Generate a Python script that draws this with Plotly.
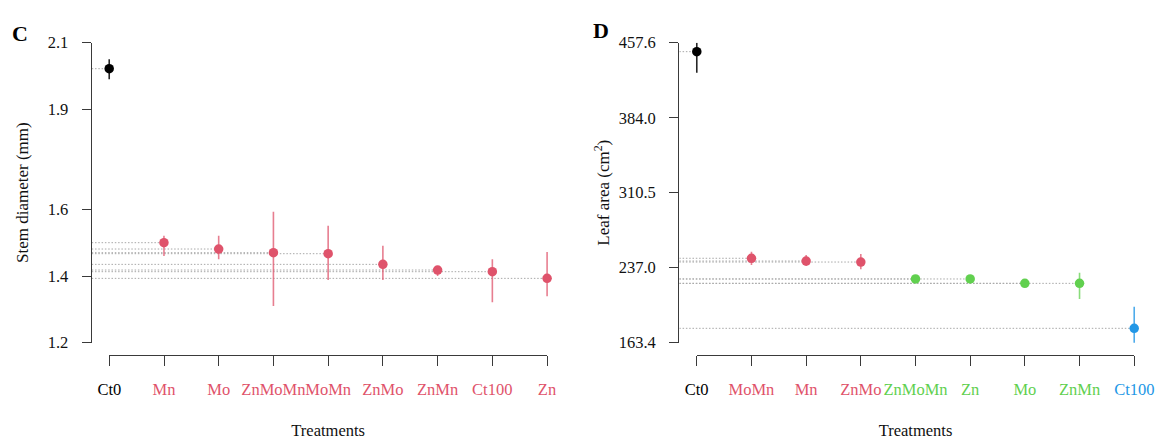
import plotly.graph_objects as go

# ---------------- data ----------------
# Panel C: stem diameter (mm)
c_labels = ["Ct0", "Mn", "Mo", "ZnMoMn", "MoMn", "ZnMo", "ZnMn", "Ct100", "Zn"]
c_groups = ["a", "b", "b", "b", "b", "b", "b", "b", "b"]
c_mean = [2.022, 1.500, 1.481, 1.470, 1.467, 1.435, 1.418, 1.413, 1.393]
c_low = [1.990, 1.460, 1.450, 1.310, 1.388, 1.388, 1.400, 1.321, 1.339]
c_high = [2.050, 1.521, 1.521, 1.593, 1.551, 1.491, 1.430, 1.450, 1.472]
c_ticks = [1.2, 1.4, 1.6, 1.9, 2.1]

# Panel D: leaf area (cm2)
d_labels = ["Ct0", "MoMn", "Mn", "ZnMo", "ZnMoMn", "Zn", "Mo", "ZnMn", "Ct100"]
d_groups = ["a", "b", "b", "b", "c", "c", "c", "c", "d"]
d_mean = [448.8, 246.2, 243.5, 242.5, 225.9, 225.9, 221.6, 221.6, 177.5]
d_low = [428.2, 239.5, 238.6, 235.4, 223.5, 223.5, 219.5, 206.3, 162.8]
d_high = [457.6, 252.6, 249.4, 250.4, 228.0, 228.0, 223.8, 232.0, 198.7]
d_ticks = [163.4, 237.0, 310.5, 384.0, 457.6]

# ---------------- style ----------------
OFF = 8                      # page body margin of the exported html
W, H = 1165 - OFF, 445 - OFF
FONT = "'Liberation Serif', 'Times New Roman', serif"
group_col = {"a": "#000000", "b": "#DF536B", "c": "#61D04F", "d": "#2297E6"}
group_err = {"a": "rgba(0,0,0,0.85)", "b": "rgba(223,83,107,0.75)",
             "c": "rgba(97,208,79,0.75)", "d": "rgba(34,151,230,0.8)"}
AX = "#3a3a3a"

def px_x(p):
    return (p - OFF) / W

def px_y(p):
    return 1 - (p - OFF) / H

fig = go.Figure()


def add_panel(labels, groups, mean, low, high, xa, ya, xdeco):
    n = len(labels)
    pos = list(range(1, n + 1))
    x0 = 1 - 17.5 / 54.7
    # dotted guide lines from the y axis to each point
    lx, ly = [], []
    for p, m in zip(pos, mean):
        lx += [x0, p, None]
        ly += [m, m, None]
    fig.add_trace(go.Scatter(x=lx, y=ly, mode="lines", xaxis=xa, yaxis=ya,
                             line=dict(color="#a8a8a8", width=1, dash="1.5px,1.8px"),
                             hoverinfo="skip", showlegend=False))
    for g in dict.fromkeys(groups):
        idx = [i for i, gg in enumerate(groups) if gg == g]
        fig.add_trace(go.Scatter(
            x=[pos[i] for i in idx], y=[mean[i] for i in idx],
            mode="markers", xaxis=xa, yaxis=ya, cliponaxis=False,
            marker=dict(color=group_col[g], size=9.5, line=dict(width=0)),
            error_y=dict(type="data", symmetric=False,
                         array=[high[i] - mean[i] for i in idx],
                         arrayminus=[mean[i] - low[i] for i in idx],
                         color=group_err[g], thickness=1.6, width=0),
            showlegend=False))
    # helper trace for the detached category axis (invisible)
    fig.add_trace(go.Scatter(x=pos, y=mean, mode="markers", xaxis=xdeco, yaxis=ya,
                             marker=dict(opacity=0), hoverinfo="skip", showlegend=False))
    ticktext = ['<span style="color:%s">%s</span>' % (group_col[g], l)
                for l, g in zip(labels, groups)]
    return pos, ticktext, x0


posC, ttC, x0 = add_panel(c_labels, c_groups, c_mean, c_low, c_high, "x", "y", "x3")
posD, ttD, _ = add_panel(d_labels, d_groups, d_mean, d_low, d_high, "x2", "y2", "x4")

ydom = [px_y(342.7), px_y(42.7)]
xpos = px_y(355)

common_y = dict(showline=True, linecolor=AX, linewidth=1.3, ticks="outside", ticklen=9,
                tickcolor=AX, tickwidth=1.3, showgrid=False, zeroline=False,
                tickfont=dict(family=FONT, size=16.5, color="#111111"),
                ticklabelstandoff=10, domain=ydom, automargin=False)
common_deco = dict(showline=True, linecolor=AX, linewidth=1.3, ticks="outside", ticklen=10,
                   tickcolor=AX, tickwidth=1.3, showgrid=False, zeroline=False,
                   tickfont=dict(family=FONT, size=16.5), ticklabelstandoff=9, tickangle=0,
                   anchor="free", position=xpos, range=[1, 9], tickmode="array",
                   automargin=False,
                   title=dict(text="Treatments", font=dict(family=FONT, size=16.5, color="#111111"),
                              standoff=26))

fig.update_layout(
    width=W, height=H,
    margin=dict(l=0, r=0, t=0, b=0, autoexpand=False),
    paper_bgcolor="white", plot_bgcolor="rgba(0,0,0,0)",
    font=dict(family=FONT, size=16, color="#111111"),
    showlegend=False,
    xaxis=dict(domain=[px_x(91.7), px_x(564.6)], range=[x0, 10 - x0], visible=False,
               anchor="y", automargin=False),
    yaxis=dict(range=[1.2, 2.1], tickvals=c_ticks, ticktext=["%.1f" % v for v in c_ticks],
               anchor="x",
               title=dict(text="Stem diameter (mm)", font=dict(family=FONT, size=17, color="#111111"),
                          standoff=14),
               **common_y),
    xaxis3=dict(domain=[px_x(109.3), px_x(547.0)], tickvals=posC, ticktext=ttC, **common_deco),
    xaxis2=dict(domain=[px_x(679.3), px_x(1151.7)], range=[x0, 10 - x0], visible=False,
                anchor="y2", automargin=False),
    yaxis2=dict(range=[163.4, 457.6], tickvals=d_ticks, ticktext=["%.1f" % v for v in d_ticks],
                anchor="x2",
                title=dict(text="Leaf area (cm<sup>2</sup>)", font=dict(family=FONT, size=17, color="#111111"),
                           standoff=4),
                **common_y),
    xaxis4=dict(domain=[px_x(696.7), px_x(1134.3)], tickvals=posD, ticktext=ttD, **common_deco),
    annotations=[
        dict(text="<b>C</b>", x=px_x(19.5), y=px_y(33), xref="paper", yref="paper",
             xanchor="center", yanchor="middle",
             showarrow=False, font=dict(family=FONT, size=22, color="#000000")),
        dict(text="<b>D</b>", x=px_x(601), y=px_y(31), xref="paper", yref="paper",
             xanchor="center", yanchor="middle",
             showarrow=False, font=dict(family=FONT, size=22, color="#000000")),
    ],
)

fig.write_html("out.html")
